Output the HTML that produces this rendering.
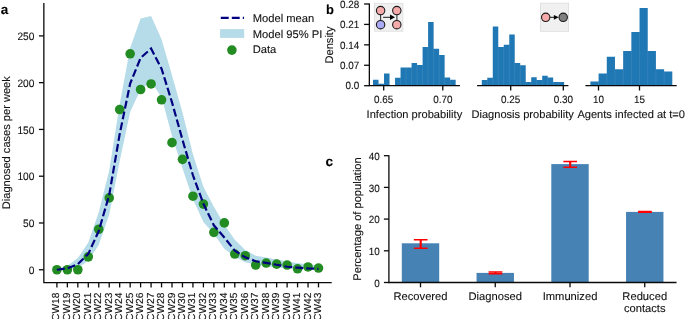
<!DOCTYPE html>
<html><head><meta charset="utf-8"><style>
html,body{margin:0;padding:0;background:#fff;}
svg{display:block;will-change:transform;}
text{font-family:"Liberation Sans",sans-serif;text-rendering:geometricPrecision;stroke:#111;stroke-width:0.1px;}
</style></head><body>
<svg width="685" height="319" viewBox="0 0 685 319">
<rect width="685" height="319" fill="#fff"/>
<polygon points="56.90,269.28 67.36,266.01 77.83,258.06 88.29,242.62 98.76,212.22 109.22,170.60 119.68,104.18 130.15,48.06 140.61,18.50 151.08,15.98 161.54,39.17 172.00,75.37 182.47,112.60 192.93,154.23 203.40,186.87 213.86,206.70 224.32,224.85 234.79,239.82 245.25,250.11 255.72,255.72 266.18,257.59 276.64,259.46 287.11,261.33 297.57,263.20 308.04,264.14 318.50,265.07 318.50,269.47 308.04,269.28 297.57,268.81 287.11,268.35 276.64,267.41 266.18,266.01 255.72,264.61 245.25,262.27 234.79,256.65 224.32,248.70 213.86,233.64 203.40,222.04 192.93,199.13 182.47,168.17 172.00,135.99 161.54,97.17 151.08,81.73 140.61,89.22 130.15,112.04 119.68,161.24 109.22,214.56 98.76,244.96 88.29,260.77 77.83,267.88 67.36,269.75 56.90,269.75" fill="#B5DCE8"/>
<circle cx="56.90" cy="269.75" r="4.8" fill="#228B22"/>
<circle cx="67.36" cy="269.75" r="4.8" fill="#228B22"/>
<circle cx="77.83" cy="269.75" r="4.8" fill="#228B22"/>
<circle cx="88.29" cy="256.84" r="4.8" fill="#228B22"/>
<circle cx="98.76" cy="229.25" r="4.8" fill="#228B22"/>
<circle cx="109.22" cy="197.91" r="4.8" fill="#228B22"/>
<circle cx="119.68" cy="109.52" r="4.8" fill="#228B22"/>
<circle cx="130.15" cy="53.77" r="4.8" fill="#228B22"/>
<circle cx="140.61" cy="89.50" r="4.8" fill="#228B22"/>
<circle cx="151.08" cy="83.98" r="4.8" fill="#228B22"/>
<circle cx="161.54" cy="99.79" r="4.8" fill="#228B22"/>
<circle cx="172.00" cy="142.63" r="4.8" fill="#228B22"/>
<circle cx="182.47" cy="159.37" r="4.8" fill="#228B22"/>
<circle cx="192.93" cy="196.23" r="4.8" fill="#228B22"/>
<circle cx="203.40" cy="204.08" r="4.8" fill="#228B22"/>
<circle cx="213.86" cy="232.33" r="4.8" fill="#228B22"/>
<circle cx="224.32" cy="222.89" r="4.8" fill="#228B22"/>
<circle cx="234.79" cy="254.04" r="4.8" fill="#228B22"/>
<circle cx="245.25" cy="255.72" r="4.8" fill="#228B22"/>
<circle cx="255.72" cy="265.07" r="4.8" fill="#228B22"/>
<circle cx="266.18" cy="263.02" r="4.8" fill="#228B22"/>
<circle cx="276.64" cy="264.14" r="4.8" fill="#228B22"/>
<circle cx="287.11" cy="265.07" r="4.8" fill="#228B22"/>
<circle cx="297.57" cy="268.81" r="4.8" fill="#228B22"/>
<circle cx="308.04" cy="266.94" r="4.8" fill="#228B22"/>
<circle cx="318.50" cy="268.07" r="4.8" fill="#228B22"/>
<polyline points="56.90,269.75 67.36,268.35 77.83,264.14 88.29,253.85 98.76,231.02 109.22,194.92 119.68,134.12 130.15,83.61 140.61,57.88 151.08,48.53 161.54,68.64 172.00,102.31 182.47,139.73 192.93,175.27 203.40,203.80 213.86,225.32 224.32,237.48 234.79,250.57 245.25,257.31 255.72,261.24 266.18,262.92 276.64,264.79 287.11,266.76 297.57,267.69 308.04,268.44 318.50,268.91" fill="none" stroke="#000080" stroke-width="2.2" stroke-dasharray="7.9 3.1"/>
<path d="M43.85 3.00 V282.60 H331.70" fill="none" stroke="#0a0a0a" stroke-width="1.3"/>
<line x1="38.95" y1="269.75" x2="43.85" y2="269.75" stroke="#0a0a0a" stroke-width="1.3"/>
<text x="34.4" y="273.95" font-size="10.80" textLength="5.67" lengthAdjust="spacingAndGlyphs" text-anchor="end" fill="#111">0</text>
<line x1="38.95" y1="222.98" x2="43.85" y2="222.98" stroke="#0a0a0a" stroke-width="1.3"/>
<text x="34.4" y="227.18" font-size="10.80" textLength="11.34" lengthAdjust="spacingAndGlyphs" text-anchor="end" fill="#111">50</text>
<line x1="38.95" y1="176.21" x2="43.85" y2="176.21" stroke="#0a0a0a" stroke-width="1.3"/>
<text x="34.4" y="180.41" font-size="10.80" textLength="17.02" lengthAdjust="spacingAndGlyphs" text-anchor="end" fill="#111">100</text>
<line x1="38.95" y1="129.44" x2="43.85" y2="129.44" stroke="#0a0a0a" stroke-width="1.3"/>
<text x="34.4" y="133.64" font-size="10.80" textLength="17.02" lengthAdjust="spacingAndGlyphs" text-anchor="end" fill="#111">150</text>
<line x1="38.95" y1="82.67" x2="43.85" y2="82.67" stroke="#0a0a0a" stroke-width="1.3"/>
<text x="34.4" y="86.87" font-size="10.80" textLength="17.02" lengthAdjust="spacingAndGlyphs" text-anchor="end" fill="#111">200</text>
<line x1="38.95" y1="35.90" x2="43.85" y2="35.90" stroke="#0a0a0a" stroke-width="1.3"/>
<text x="34.4" y="40.10" font-size="10.80" textLength="17.02" lengthAdjust="spacingAndGlyphs" text-anchor="end" fill="#111">250</text>
<line x1="56.90" y1="282.60" x2="56.90" y2="287.40" stroke="#0a0a0a" stroke-width="1.3"/>
<text transform="translate(59.40,292.6) rotate(-90)" font-size="10.2" text-anchor="end" fill="#111">CW18</text>
<line x1="67.36" y1="282.60" x2="67.36" y2="287.40" stroke="#0a0a0a" stroke-width="1.3"/>
<text transform="translate(69.86,292.6) rotate(-90)" font-size="10.2" text-anchor="end" fill="#111">CW19</text>
<line x1="77.83" y1="282.60" x2="77.83" y2="287.40" stroke="#0a0a0a" stroke-width="1.3"/>
<text transform="translate(80.33,292.6) rotate(-90)" font-size="10.2" text-anchor="end" fill="#111">CW20</text>
<line x1="88.29" y1="282.60" x2="88.29" y2="287.40" stroke="#0a0a0a" stroke-width="1.3"/>
<text transform="translate(90.79,292.6) rotate(-90)" font-size="10.2" text-anchor="end" fill="#111">CW21</text>
<line x1="98.76" y1="282.60" x2="98.76" y2="287.40" stroke="#0a0a0a" stroke-width="1.3"/>
<text transform="translate(101.26,292.6) rotate(-90)" font-size="10.2" text-anchor="end" fill="#111">CW22</text>
<line x1="109.22" y1="282.60" x2="109.22" y2="287.40" stroke="#0a0a0a" stroke-width="1.3"/>
<text transform="translate(111.72,292.6) rotate(-90)" font-size="10.2" text-anchor="end" fill="#111">CW23</text>
<line x1="119.68" y1="282.60" x2="119.68" y2="287.40" stroke="#0a0a0a" stroke-width="1.3"/>
<text transform="translate(122.18,292.6) rotate(-90)" font-size="10.2" text-anchor="end" fill="#111">CW24</text>
<line x1="130.15" y1="282.60" x2="130.15" y2="287.40" stroke="#0a0a0a" stroke-width="1.3"/>
<text transform="translate(132.65,292.6) rotate(-90)" font-size="10.2" text-anchor="end" fill="#111">CW25</text>
<line x1="140.61" y1="282.60" x2="140.61" y2="287.40" stroke="#0a0a0a" stroke-width="1.3"/>
<text transform="translate(143.11,292.6) rotate(-90)" font-size="10.2" text-anchor="end" fill="#111">CW26</text>
<line x1="151.08" y1="282.60" x2="151.08" y2="287.40" stroke="#0a0a0a" stroke-width="1.3"/>
<text transform="translate(153.58,292.6) rotate(-90)" font-size="10.2" text-anchor="end" fill="#111">CW27</text>
<line x1="161.54" y1="282.60" x2="161.54" y2="287.40" stroke="#0a0a0a" stroke-width="1.3"/>
<text transform="translate(164.04,292.6) rotate(-90)" font-size="10.2" text-anchor="end" fill="#111">CW28</text>
<line x1="172.00" y1="282.60" x2="172.00" y2="287.40" stroke="#0a0a0a" stroke-width="1.3"/>
<text transform="translate(174.50,292.6) rotate(-90)" font-size="10.2" text-anchor="end" fill="#111">CW29</text>
<line x1="182.47" y1="282.60" x2="182.47" y2="287.40" stroke="#0a0a0a" stroke-width="1.3"/>
<text transform="translate(184.97,292.6) rotate(-90)" font-size="10.2" text-anchor="end" fill="#111">CW30</text>
<line x1="192.93" y1="282.60" x2="192.93" y2="287.40" stroke="#0a0a0a" stroke-width="1.3"/>
<text transform="translate(195.43,292.6) rotate(-90)" font-size="10.2" text-anchor="end" fill="#111">CW31</text>
<line x1="203.40" y1="282.60" x2="203.40" y2="287.40" stroke="#0a0a0a" stroke-width="1.3"/>
<text transform="translate(205.90,292.6) rotate(-90)" font-size="10.2" text-anchor="end" fill="#111">CW32</text>
<line x1="213.86" y1="282.60" x2="213.86" y2="287.40" stroke="#0a0a0a" stroke-width="1.3"/>
<text transform="translate(216.36,292.6) rotate(-90)" font-size="10.2" text-anchor="end" fill="#111">CW33</text>
<line x1="224.32" y1="282.60" x2="224.32" y2="287.40" stroke="#0a0a0a" stroke-width="1.3"/>
<text transform="translate(226.82,292.6) rotate(-90)" font-size="10.2" text-anchor="end" fill="#111">CW34</text>
<line x1="234.79" y1="282.60" x2="234.79" y2="287.40" stroke="#0a0a0a" stroke-width="1.3"/>
<text transform="translate(237.29,292.6) rotate(-90)" font-size="10.2" text-anchor="end" fill="#111">CW35</text>
<line x1="245.25" y1="282.60" x2="245.25" y2="287.40" stroke="#0a0a0a" stroke-width="1.3"/>
<text transform="translate(247.75,292.6) rotate(-90)" font-size="10.2" text-anchor="end" fill="#111">CW36</text>
<line x1="255.72" y1="282.60" x2="255.72" y2="287.40" stroke="#0a0a0a" stroke-width="1.3"/>
<text transform="translate(258.22,292.6) rotate(-90)" font-size="10.2" text-anchor="end" fill="#111">CW37</text>
<line x1="266.18" y1="282.60" x2="266.18" y2="287.40" stroke="#0a0a0a" stroke-width="1.3"/>
<text transform="translate(268.68,292.6) rotate(-90)" font-size="10.2" text-anchor="end" fill="#111">CW38</text>
<line x1="276.64" y1="282.60" x2="276.64" y2="287.40" stroke="#0a0a0a" stroke-width="1.3"/>
<text transform="translate(279.14,292.6) rotate(-90)" font-size="10.2" text-anchor="end" fill="#111">CW39</text>
<line x1="287.11" y1="282.60" x2="287.11" y2="287.40" stroke="#0a0a0a" stroke-width="1.3"/>
<text transform="translate(289.61,292.6) rotate(-90)" font-size="10.2" text-anchor="end" fill="#111">CW40</text>
<line x1="297.57" y1="282.60" x2="297.57" y2="287.40" stroke="#0a0a0a" stroke-width="1.3"/>
<text transform="translate(300.07,292.6) rotate(-90)" font-size="10.2" text-anchor="end" fill="#111">CW41</text>
<line x1="308.04" y1="282.60" x2="308.04" y2="287.40" stroke="#0a0a0a" stroke-width="1.3"/>
<text transform="translate(310.54,292.6) rotate(-90)" font-size="10.2" text-anchor="end" fill="#111">CW42</text>
<line x1="318.50" y1="282.60" x2="318.50" y2="287.40" stroke="#0a0a0a" stroke-width="1.3"/>
<text transform="translate(321.00,292.6) rotate(-90)" font-size="10.2" text-anchor="end" fill="#111">CW43</text>
<text transform="translate(9.9,142.7) rotate(-90)" font-size="11.08" text-anchor="middle" fill="#111">Diagnosed cases per week</text>
<line x1="220.8" y1="17.84" x2="244" y2="17.84" stroke="#000080" stroke-width="2.2" stroke-dasharray="7.9 3.1"/>
<rect x="220.1" y="29.1" width="24.1" height="8.8" fill="#B5DCE8"/>
<circle cx="231.9" cy="50.1" r="4.8" fill="#228B22"/>
<text x="252.7" y="22.10" font-size="11.2" fill="#111">Model mean</text>
<text x="252.7" y="37.50" font-size="11.2" fill="#111">Model 95% PI</text>
<text x="252.7" y="52.80" font-size="11.2" fill="#111">Data</text>
<text x="0.8" y="13.5" font-size="13.5" font-weight="bold" fill="#000">a</text>
<path d="M373.00 85.70 V79.70 H378.51 V83.70 H384.02 V73.40 H389.53 V85.70 Z" fill="#1f77b4"/>
<line x1="378.51" y1="83.70" x2="378.51" y2="85.70" stroke="#fff" stroke-opacity="0.13" stroke-width="0.7"/>
<line x1="384.02" y1="83.70" x2="384.02" y2="85.70" stroke="#fff" stroke-opacity="0.13" stroke-width="0.7"/>
<path d="M395.04 85.70 V77.70 H400.55 V67.60 H406.06 V67.60 H411.57 V63.10 H417.08 V65.10 H422.59 V47.10 H428.10 V22.10 H433.61 V48.80 H439.12 V55.10 H444.63 V77.60 H450.14 V79.80 H455.65 V85.70 Z" fill="#1f77b4"/>
<line x1="400.55" y1="77.70" x2="400.55" y2="85.70" stroke="#fff" stroke-opacity="0.13" stroke-width="0.7"/>
<line x1="406.06" y1="67.60" x2="406.06" y2="85.70" stroke="#fff" stroke-opacity="0.13" stroke-width="0.7"/>
<line x1="411.57" y1="67.60" x2="411.57" y2="85.70" stroke="#fff" stroke-opacity="0.13" stroke-width="0.7"/>
<line x1="417.08" y1="65.10" x2="417.08" y2="85.70" stroke="#fff" stroke-opacity="0.13" stroke-width="0.7"/>
<line x1="422.59" y1="65.10" x2="422.59" y2="85.70" stroke="#fff" stroke-opacity="0.13" stroke-width="0.7"/>
<line x1="428.10" y1="47.10" x2="428.10" y2="85.70" stroke="#fff" stroke-opacity="0.13" stroke-width="0.7"/>
<line x1="433.61" y1="48.80" x2="433.61" y2="85.70" stroke="#fff" stroke-opacity="0.13" stroke-width="0.7"/>
<line x1="439.12" y1="55.10" x2="439.12" y2="85.70" stroke="#fff" stroke-opacity="0.13" stroke-width="0.7"/>
<line x1="444.63" y1="77.60" x2="444.63" y2="85.70" stroke="#fff" stroke-opacity="0.13" stroke-width="0.7"/>
<line x1="450.14" y1="79.80" x2="450.14" y2="85.70" stroke="#fff" stroke-opacity="0.13" stroke-width="0.7"/>
<path d="M481.80 85.70 V80.00 H487.29 V77.80 H492.78 V26.40 H498.27 V47.10 H503.76 V44.70 H509.25 V34.60 H514.74 V63.10 H520.23 V65.20 H525.72 V81.90 H531.21 V77.20 H536.70 V80.00 H542.19 V75.80 H547.68 V77.60 H553.17 V81.90 H558.66 V81.90 H564.15 V85.70 Z" fill="#1f77b4"/>
<line x1="487.29" y1="80.00" x2="487.29" y2="85.70" stroke="#fff" stroke-opacity="0.13" stroke-width="0.7"/>
<line x1="492.78" y1="77.80" x2="492.78" y2="85.70" stroke="#fff" stroke-opacity="0.13" stroke-width="0.7"/>
<line x1="498.27" y1="47.10" x2="498.27" y2="85.70" stroke="#fff" stroke-opacity="0.13" stroke-width="0.7"/>
<line x1="503.76" y1="47.10" x2="503.76" y2="85.70" stroke="#fff" stroke-opacity="0.13" stroke-width="0.7"/>
<line x1="509.25" y1="44.70" x2="509.25" y2="85.70" stroke="#fff" stroke-opacity="0.13" stroke-width="0.7"/>
<line x1="514.74" y1="63.10" x2="514.74" y2="85.70" stroke="#fff" stroke-opacity="0.13" stroke-width="0.7"/>
<line x1="520.23" y1="65.20" x2="520.23" y2="85.70" stroke="#fff" stroke-opacity="0.13" stroke-width="0.7"/>
<line x1="525.72" y1="81.90" x2="525.72" y2="85.70" stroke="#fff" stroke-opacity="0.13" stroke-width="0.7"/>
<line x1="531.21" y1="81.90" x2="531.21" y2="85.70" stroke="#fff" stroke-opacity="0.13" stroke-width="0.7"/>
<line x1="536.70" y1="80.00" x2="536.70" y2="85.70" stroke="#fff" stroke-opacity="0.13" stroke-width="0.7"/>
<line x1="542.19" y1="80.00" x2="542.19" y2="85.70" stroke="#fff" stroke-opacity="0.13" stroke-width="0.7"/>
<line x1="547.68" y1="77.60" x2="547.68" y2="85.70" stroke="#fff" stroke-opacity="0.13" stroke-width="0.7"/>
<line x1="553.17" y1="81.90" x2="553.17" y2="85.70" stroke="#fff" stroke-opacity="0.13" stroke-width="0.7"/>
<line x1="558.66" y1="81.90" x2="558.66" y2="85.70" stroke="#fff" stroke-opacity="0.13" stroke-width="0.7"/>
<path d="M590.40 85.70 V81.50 H598.59 V73.50 H606.78 V56.80 H614.97 V69.30 H623.16 V50.90 H631.35 V32.10 H639.54 V8.00 H647.73 V50.90 H655.92 V69.30 H664.11 V71.40 H672.30 V85.70 Z" fill="#1f77b4"/>
<line x1="598.59" y1="81.50" x2="598.59" y2="85.70" stroke="#fff" stroke-opacity="0.13" stroke-width="0.7"/>
<line x1="606.78" y1="73.50" x2="606.78" y2="85.70" stroke="#fff" stroke-opacity="0.13" stroke-width="0.7"/>
<line x1="614.97" y1="69.30" x2="614.97" y2="85.70" stroke="#fff" stroke-opacity="0.13" stroke-width="0.7"/>
<line x1="623.16" y1="69.30" x2="623.16" y2="85.70" stroke="#fff" stroke-opacity="0.13" stroke-width="0.7"/>
<line x1="631.35" y1="50.90" x2="631.35" y2="85.70" stroke="#fff" stroke-opacity="0.13" stroke-width="0.7"/>
<line x1="639.54" y1="32.10" x2="639.54" y2="85.70" stroke="#fff" stroke-opacity="0.13" stroke-width="0.7"/>
<line x1="647.73" y1="50.90" x2="647.73" y2="85.70" stroke="#fff" stroke-opacity="0.13" stroke-width="0.7"/>
<line x1="655.92" y1="69.30" x2="655.92" y2="85.70" stroke="#fff" stroke-opacity="0.13" stroke-width="0.7"/>
<line x1="664.11" y1="71.40" x2="664.11" y2="85.70" stroke="#fff" stroke-opacity="0.13" stroke-width="0.7"/>
<path d="M369.35 3.4 V85.70 H459.9" fill="none" stroke="#0a0a0a" stroke-width="1.3"/>
<line x1="477.1" y1="85.70" x2="568.4" y2="85.70" stroke="#0a0a0a" stroke-width="1.3"/>
<line x1="585.4" y1="85.70" x2="676.7" y2="85.70" stroke="#0a0a0a" stroke-width="1.3"/>
<line x1="364.1" y1="85.70" x2="369.35" y2="85.70" stroke="#0a0a0a" stroke-width="1.3"/>
<text x="359.3" y="89.40" font-size="10.50" textLength="13.76" lengthAdjust="spacingAndGlyphs" text-anchor="end" fill="#111">0.0</text>
<line x1="364.1" y1="65.27" x2="369.35" y2="65.27" stroke="#0a0a0a" stroke-width="1.3"/>
<text x="359.3" y="68.97" font-size="10.50" textLength="19.27" lengthAdjust="spacingAndGlyphs" text-anchor="end" fill="#111">0.07</text>
<line x1="364.1" y1="44.84" x2="369.35" y2="44.84" stroke="#0a0a0a" stroke-width="1.3"/>
<text x="359.3" y="48.54" font-size="10.50" textLength="19.27" lengthAdjust="spacingAndGlyphs" text-anchor="end" fill="#111">0.14</text>
<line x1="364.1" y1="24.41" x2="369.35" y2="24.41" stroke="#0a0a0a" stroke-width="1.3"/>
<text x="359.3" y="28.11" font-size="10.50" textLength="19.27" lengthAdjust="spacingAndGlyphs" text-anchor="end" fill="#111">0.21</text>
<line x1="364.1" y1="3.98" x2="369.35" y2="3.98" stroke="#0a0a0a" stroke-width="1.3"/>
<text x="359.3" y="7.68" font-size="10.50" textLength="19.27" lengthAdjust="spacingAndGlyphs" text-anchor="end" fill="#111">0.28</text>
<line x1="383.70" y1="85.70" x2="383.70" y2="90.50" stroke="#0a0a0a" stroke-width="1.3"/>
<text x="383.70" y="102.9" font-size="10.50" textLength="19.27" lengthAdjust="spacingAndGlyphs" text-anchor="middle" fill="#111">0.65</text>
<line x1="442.80" y1="85.70" x2="442.80" y2="90.50" stroke="#0a0a0a" stroke-width="1.3"/>
<text x="442.80" y="102.9" font-size="10.50" textLength="19.27" lengthAdjust="spacingAndGlyphs" text-anchor="middle" fill="#111">0.70</text>
<line x1="510.70" y1="85.70" x2="510.70" y2="90.50" stroke="#0a0a0a" stroke-width="1.3"/>
<text x="510.70" y="102.9" font-size="10.50" textLength="19.27" lengthAdjust="spacingAndGlyphs" text-anchor="middle" fill="#111">0.25</text>
<line x1="563.30" y1="85.70" x2="563.30" y2="90.50" stroke="#0a0a0a" stroke-width="1.3"/>
<text x="563.30" y="102.9" font-size="10.50" textLength="19.27" lengthAdjust="spacingAndGlyphs" text-anchor="middle" fill="#111">0.30</text>
<line x1="598.50" y1="85.70" x2="598.50" y2="90.50" stroke="#0a0a0a" stroke-width="1.3"/>
<text x="598.50" y="102.9" font-size="10.50" textLength="11.01" lengthAdjust="spacingAndGlyphs" text-anchor="middle" fill="#111">10</text>
<line x1="639.50" y1="85.70" x2="639.50" y2="90.50" stroke="#0a0a0a" stroke-width="1.3"/>
<text x="639.50" y="102.9" font-size="10.50" textLength="11.01" lengthAdjust="spacingAndGlyphs" text-anchor="middle" fill="#111">15</text>
<text x="414.40" y="118.1" font-size="11.1" text-anchor="middle" fill="#111">Infection probability</text>
<text x="522.60" y="118.1" font-size="11.1" text-anchor="middle" fill="#111">Diagnosis probability</text>
<text x="631.20" y="118.1" font-size="11.1" text-anchor="middle" fill="#111">Agents infected at t=0</text>
<text transform="translate(332.6,45) rotate(-90)" font-size="11.1" text-anchor="middle" fill="#111">Density</text>
<text x="326.0" y="13.6" font-size="13.0" font-weight="bold" fill="#000">b</text>
<rect x="374.6" y="3.3" width="28.3" height="27.9" fill="#f0f0f0" stroke="#dcdcdc" stroke-width="0.8"/>
<line x1="380.6" y1="10.6" x2="380.6" y2="24.7" stroke="#333" stroke-width="1.1"/>
<line x1="396.9" y1="10.6" x2="396.9" y2="24.7" stroke="#333" stroke-width="1.1"/>
<circle cx="380.6" cy="10.6" r="4.2" fill="#f5aaaa" stroke="#1a1a1a" stroke-width="1.1"/>
<circle cx="380.6" cy="24.7" r="4.2" fill="#aaaaf5" stroke="#1a1a1a" stroke-width="1.1"/>
<circle cx="396.8" cy="10.6" r="4.2" fill="#f5aaaa" stroke="#1a1a1a" stroke-width="1.1"/>
<circle cx="396.8" cy="24.7" r="4.2" fill="#f5aaaa" stroke="#1a1a1a" stroke-width="1.1"/>
<line x1="383.1" y1="17.3" x2="391" y2="17.3" stroke="#000" stroke-width="0.9"/>
<path d="M390 14.4 L395 17.2 L390 20 Z" fill="#000"/>
<rect x="540.4" y="3.2" width="28.2" height="28.1" fill="#f0f0f0" stroke="#dcdcdc" stroke-width="0.8"/>
<line x1="549.5" y1="17.3" x2="555" y2="17.3" stroke="#000" stroke-width="0.9"/>
<path d="M553.9 14.9 L558.6 17.3 L553.9 19.7 Z" fill="#000"/>
<circle cx="545.7" cy="17.3" r="4.2" fill="#f5aaaa" stroke="#1a1a1a" stroke-width="1.1"/>
<circle cx="563.2" cy="17.3" r="4.2" fill="#808080" stroke="#1a1a1a" stroke-width="1.1"/>
<rect x="401.80" y="243.30" width="37.4" height="39.20" fill="#4682B4"/>
<rect x="476.55" y="272.90" width="37.4" height="9.60" fill="#4682B4"/>
<rect x="551.30" y="164.10" width="37.4" height="118.40" fill="#4682B4"/>
<rect x="626.05" y="211.90" width="37.4" height="70.60" fill="#4682B4"/>
<path d="M420.70 239.80 V248.30" stroke="#ff0000" stroke-width="2.2" fill="none"/>
<path d="M413.85 239.80 H427.55 M413.85 248.30 H427.55" stroke="#ff0000" stroke-width="1.5" fill="none"/>
<path d="M495.45 272.05 V273.65" stroke="#ff0000" stroke-width="2.2" fill="none"/>
<path d="M488.60 272.05 H502.30 M488.60 273.65 H502.30" stroke="#ff0000" stroke-width="1.5" fill="none"/>
<path d="M570.20 161.60 V167.30" stroke="#ff0000" stroke-width="2.2" fill="none"/>
<path d="M563.35 161.60 H577.05 M563.35 167.30 H577.05" stroke="#ff0000" stroke-width="1.5" fill="none"/>
<path d="M644.95 211.45 V212.20" stroke="#ff0000" stroke-width="2.2" fill="none"/>
<path d="M638.10 211.45 H651.80 M638.10 212.20 H651.80" stroke="#ff0000" stroke-width="1.5" fill="none"/>
<path d="M388.9 155.3 V282.50 H676.5" fill="none" stroke="#0a0a0a" stroke-width="1.3"/>
<line x1="383.9" y1="282.50" x2="388.9" y2="282.50" stroke="#0a0a0a" stroke-width="1.3"/>
<text x="379.7" y="286.60" font-size="10.50" textLength="5.51" lengthAdjust="spacingAndGlyphs" text-anchor="end" fill="#111">0</text>
<line x1="383.9" y1="250.80" x2="388.9" y2="250.80" stroke="#0a0a0a" stroke-width="1.3"/>
<text x="379.7" y="254.90" font-size="10.50" textLength="11.01" lengthAdjust="spacingAndGlyphs" text-anchor="end" fill="#111">10</text>
<line x1="383.9" y1="219.10" x2="388.9" y2="219.10" stroke="#0a0a0a" stroke-width="1.3"/>
<text x="379.7" y="223.20" font-size="10.50" textLength="11.01" lengthAdjust="spacingAndGlyphs" text-anchor="end" fill="#111">20</text>
<line x1="383.9" y1="187.40" x2="388.9" y2="187.40" stroke="#0a0a0a" stroke-width="1.3"/>
<text x="379.7" y="191.50" font-size="10.50" textLength="11.01" lengthAdjust="spacingAndGlyphs" text-anchor="end" fill="#111">30</text>
<line x1="383.9" y1="155.70" x2="388.9" y2="155.70" stroke="#0a0a0a" stroke-width="1.3"/>
<text x="379.7" y="159.80" font-size="10.50" textLength="11.01" lengthAdjust="spacingAndGlyphs" text-anchor="end" fill="#111">40</text>
<line x1="420.50" y1="282.50" x2="420.50" y2="287.30" stroke="#0a0a0a" stroke-width="1.3"/>
<text x="420.50" y="299.9" font-size="11.2" text-anchor="middle" fill="#111">Recovered</text>
<line x1="495.25" y1="282.50" x2="495.25" y2="287.30" stroke="#0a0a0a" stroke-width="1.3"/>
<text x="495.25" y="299.9" font-size="11.2" text-anchor="middle" fill="#111">Diagnosed</text>
<line x1="570.00" y1="282.50" x2="570.00" y2="287.30" stroke="#0a0a0a" stroke-width="1.3"/>
<text x="570.00" y="299.9" font-size="11.2" text-anchor="middle" fill="#111">Immunized</text>
<line x1="644.75" y1="282.50" x2="644.75" y2="287.30" stroke="#0a0a0a" stroke-width="1.3"/>
<text x="644.75" y="299.9" font-size="11.2" text-anchor="middle" fill="#111">Reduced</text>
<text x="644.75" y="312.2" font-size="11.2" text-anchor="middle" fill="#111">contacts</text>
<text transform="translate(360.6,219) rotate(-90)" font-size="11.1" text-anchor="middle" fill="#111">Percentage of population</text>
<text x="325.4" y="165.5" font-size="13.6" font-weight="bold" fill="#000">c</text>
</svg>
</body></html>
